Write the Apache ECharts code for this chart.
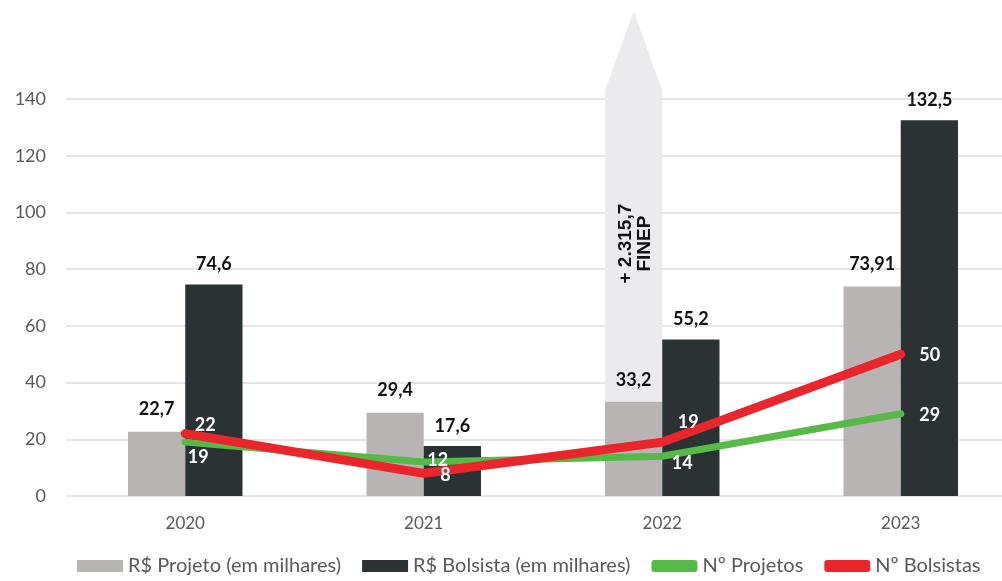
<!DOCTYPE html>
<html>
<head>
<meta charset="utf-8">
<script src="https://cdn.jsdelivr.net/npm/echarts@6/dist/echarts.min.js"></script>
<style>
  html, body { margin: 0; padding: 0; background: #fff; overflow: hidden; }
  #chart { width: 1020px; height: 581px; }
</style>
</head>
<body>
<div id="chart"></div>
<script>
const years = ['2020', '2021', '2022', '2023'];
const valorProjeto = [22.7, 29.4, 33.2, 73.91];
const valorBolsista = [74.6, 17.6, 55.2, 132.5];
const numProjetos = [19, 12, 14, 29];
const numBolsistas = [22, 8, 19, 50];
// FINEP extra column on 2022: base, shoulder and tip of the arrow (axis units)
const finepIndex = 2;
const finepArrow = [33.2, 143, 171];
const finepText = '+ 2.315,7\nFINEP';

const yTicks = { min: 0, max: 140, interval: 20 };

const fmt = v => String(v).replace('.', ',');
const font = 'Lato, "Open Sans", sans-serif';

const chart = echarts.init(document.getElementById('chart'));

// label tweaks for the line points
const bolsLabel = [
  { position: 'right', distance: 9, offset: [0, -8] },
  { position: 'right', distance: 16, offset: [0, 2] },
  { position: 'right', distance: 15, offset: [0, -20] },
  { position: 'right', distance: 18, offset: [0, 1] }
];
const projLabel = [
  { position: 'right', distance: 2, offset: [0, 15] },
  { position: 'right', distance: 3, offset: [0, -2] },
  { position: 'right', distance: 9, offset: [0, 7] },
  { position: 'right', distance: 18, offset: [0, 1] }
];

const option = {
  animation: false,
  textStyle: { fontFamily: font },
  grid: { left: 66, right: 0, top: 99, bottom: 85 },
  legend: {
    bottom: 0,
    left: 72,
    itemWidth: 46,
    itemHeight: 12,
    itemGap: 21,
    textStyle: { color: '#595959', fontSize: 20, fontFamily: font },
    data: [
      { name: 'R$ Projeto (em milhares)', icon: 'rect' },
      { name: 'R$ Bolsista (em milhares)', icon: 'rect' },
      { name: 'Nº Projetos', icon: 'roundRect', itemStyle: { color: '#57b947' } },
      { name: 'Nº Bolsistas', icon: 'roundRect', itemStyle: { color: '#e8262c' } }
    ]
  },
  xAxis: {
    type: 'category',
    data: years,
    axisLine: { show: false },
    axisTick: { show: false },
    axisLabel: { color: '#595959', fontSize: 17, margin: 19 }
  },
  yAxis: {
    type: 'value',
    min: yTicks.min,
    max: yTicks.max,
    interval: yTicks.interval,
    axisLine: { show: false },
    axisTick: { show: false },
    axisLabel: { color: '#595959', fontSize: 18, margin: 20 },
    splitLine: { lineStyle: { color: '#dedede', width: 1.5 } }
  },
  series: [
    {
      name: 'finep',
      type: 'custom',
      z: 1,
      silent: true,
      data: [[finepIndex].concat(finepArrow)],
      renderItem: (params, api) => {
        const idx = api.value(0);
        const base = api.coord([idx, api.value(1)]);
        const shoulder = api.coord([idx, api.value(2)]);
        const tip = api.coord([idx, api.value(3)]);
        const w = api.size([1, 0])[0] * 0.24;
        const x0 = base[0] - w, x1 = base[0];
        const mid = api.coord([idx, 89]);
        return {
          type: 'group',
          children: [
            {
              type: 'polygon',
              shape: { points: [[x0, base[1]], [x0, shoulder[1]], [(x0 + x1) / 2, tip[1]], [x1, shoulder[1]], [x1, base[1]]] },
              style: { fill: '#ebebed' }
            },
            {
              type: 'text',
              x: (x0 + x1) / 2 + 2,
              y: mid[1],
              rotation: Math.PI / 2,
              style: {
                text: finepText,
                fill: '#111',
                font: 'bold 19px "Liberation Sans", Arial, sans-serif',
                align: 'center',
                verticalAlign: 'middle',
                lineHeight: 19
              }
            }
          ]
        };
      }
    },
    {
      name: 'R$ Projeto (em milhares)',
      type: 'bar',
      data: valorProjeto,
      barWidth: '24%',
      barGap: '0%',
      itemStyle: { color: '#b8b4b4' },
      label: {
        show: true, position: 'top', distance: 13,
        color: '#111', fontSize: 18, fontWeight: 'bold',
        formatter: p => fmt(p.value)
      }
    },
    {
      name: 'R$ Bolsista (em milhares)',
      type: 'bar',
      data: valorBolsista,
      barWidth: '24%',
      barGap: '0%',
      itemStyle: { color: '#2b3234' },
      label: {
        show: true, position: 'top', distance: 11,
        color: '#111', fontSize: 18, fontWeight: 'bold',
        formatter: p => fmt(p.value)
      }
    },
    {
      name: 'Nº Projetos',
      type: 'line',
      z: 3,
      data: numProjetos.map((v, i) => ({ value: v, label: projLabel[i] })),
      symbol: 'circle',
      symbolSize: 1,
      showAllSymbol: true,
      lineStyle: { color: '#57b947', width: 7, cap: 'round', join: 'round' },
      itemStyle: { color: '#57b947' },
      label: { show: true, color: '#fff', fontSize: 18, fontWeight: 'bold' }
    },
    {
      name: 'Nº Bolsistas',
      type: 'line',
      z: 4,
      data: numBolsistas.map((v, i) => ({ value: v, label: bolsLabel[i] })),
      symbol: 'circle',
      symbolSize: 1,
      showAllSymbol: true,
      lineStyle: { color: '#e8262c', width: 9, cap: 'round', join: 'round' },
      itemStyle: { color: '#e8262c' },
      label: { show: true, color: '#fff', fontSize: 18, fontWeight: 'bold' }
    }
  ]
};

chart.setOption(option);
</script>
</body>
</html>
